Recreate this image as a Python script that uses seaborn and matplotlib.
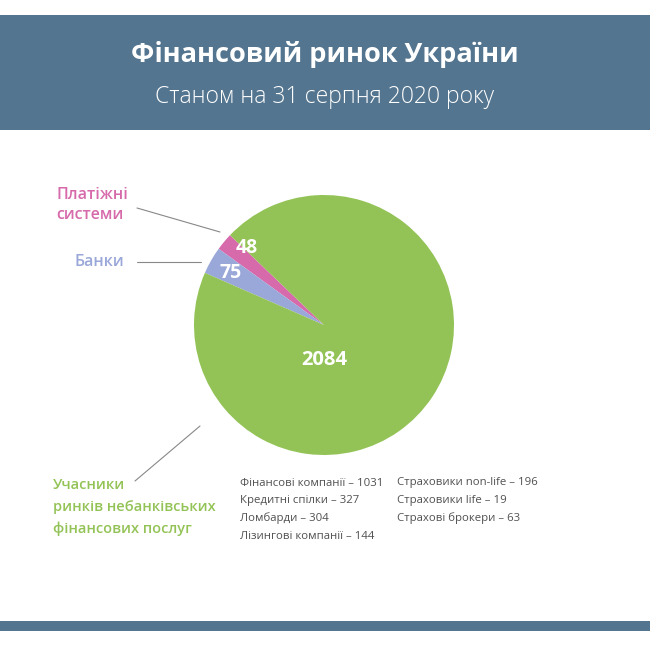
import numpy as np
import matplotlib
matplotlib.use("Agg")
import matplotlib.pyplot as plt
import seaborn as sns

# data
segments = ["Платіжні системи", "Банки", "Учасники ринків небанківських фінансових послуг"]
counts = [48, 75, 2084]
seg_colors = ["#d66aab", "#9aa7d9", "#93c356"]

details_left = ["Фінансові компанії – 1031", "Кредитні спілки – 327",
                "Ломбарди – 304", "Лізингові компанії – 144"]
details_right = ["Страховики non-life – 196", "Страховики life – 19",
                 "Страхові брокери – 63"]

sns.set_theme(style="white")
plt.rcParams["font.family"] = ["Open Sans", "DejaVu Sans"]

fig = plt.figure(figsize=(6.5, 6.5), dpi=100)
fig.patch.set_facecolor("white")

# overlay axes in pixel coords for header / labels
bg = fig.add_axes([0, 0, 1, 1])
bg.set_xlim(0, 650)
bg.set_ylim(650, 0)
bg.axis("off")
band = "#54758f"
bg.add_patch(plt.Rectangle((0, 15), 650, 115, color=band, lw=0))
bg.add_patch(plt.Rectangle((0, 621), 650, 10, color=band, lw=0))
bg.text(325, 55, "Фінансовий ринок України", color="white", fontsize=19.5,
        fontweight="bold", ha="center", va="center")
bg.text(325, 97, "Станом на 31 серпня 2020 року", color="white", fontsize=16.5,
        fontweight="light", ha="center", va="center")

# pie
ax = fig.add_axes([194 / 650, (650 - 455) / 650, 260 / 650, 260 / 650])
wedges, _ = ax.pie(counts, colors=seg_colors, startangle=136.3,
                   counterclock=True, wedgeprops=dict(linewidth=0))
ax.set_xlim(-1, 1)
ax.set_ylim(-1, 1)
ax.set_aspect("equal")
# value labels of the two thin wedges, nudged like in the original
shift = [-5.0, 0.6]
rad = [0.84, 0.82]
for w, v, s, r in zip(wedges[:2], counts[:2], shift, rad):
    mid = np.deg2rad((w.theta1 + w.theta2) / 2 + s)
    ax.text(r * np.cos(mid), r * np.sin(mid), str(v), color="white",
            fontsize=14, fontweight="bold", ha="center", va="center")
ax.text(0, -0.27, str(counts[2]), color="white", fontsize=14.5,
        fontweight="bold", ha="center", va="center")

# callout labels
bg.text(56, 205, "Платіжні\nсистеми", color=seg_colors[0], fontsize=11.5,
        fontweight="semibold", ha="left", va="center", linespacing=1.35)
bg.plot([137, 220], [208, 232], color="#888888", lw=0.8)
bg.text(74, 262, "Банки", color=seg_colors[1], fontsize=11.5,
        fontweight="semibold", ha="left", va="center")
bg.plot([137, 201], [262, 262], color="#888888", lw=0.8)
bg.text(53, 507, "Учасники\nринків небанківських\nфінансових послуг",
        color=seg_colors[2], fontsize=10.5, fontweight="semibold", ha="left",
        va="center", linespacing=1.66)
bg.plot([135, 200], [481, 426], color="#888888", lw=0.8)

for i, s in enumerate(details_left):
    bg.text(240, 483 + i * 17.8, s, color="#505050", fontsize=8.2,
            ha="left", va="center")
for i, s in enumerate(details_right):
    bg.text(397, 483 + i * 17.8, s, color="#505050", fontsize=8.2,
            ha="left", va="center")

fig.savefig("out.png", dpi=100, facecolor="white")
